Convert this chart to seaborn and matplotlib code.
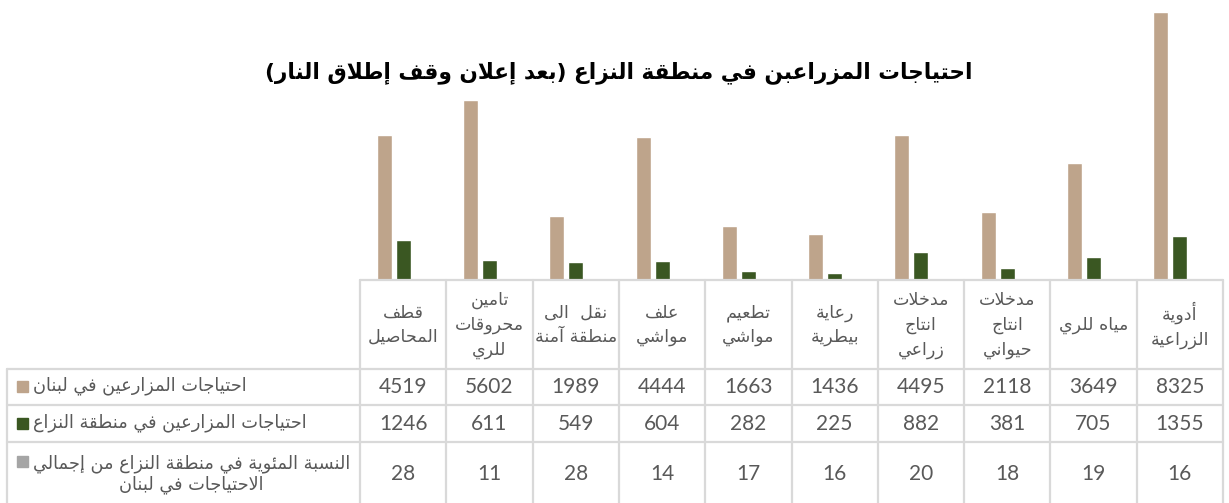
import numpy as np
import pandas as pd
import matplotlib
matplotlib.use("Agg")
import matplotlib.pyplot as plt
import matplotlib.transforms as mtransforms
from matplotlib.lines import Line2D
from matplotlib.patches import Rectangle
import seaborn as sns

# --- data (left to right as shown in the chart) ---
categories = ["قطف\nالمحاصيل", "تامين\nمحروقات\nللري", "نقل  الى\nمنطقة آمنة",
              "علف\nمواشي", "تطعيم\nمواشي", "رعاية\nبيطرية",
              "مدخلات\nانتاج\nزراعي", "مدخلات\nانتاج\nحيواني", "مياه للري",
              "أدوية\nالزراعية"]
needs_lebanon = [4519, 5602, 1989, 4444, 1663, 1436, 4495, 2118, 3649, 8325]
needs_conflict = [1246, 611, 549, 604, 282, 225, 882, 381, 705, 1355]
share_pct = [28, 11, 28, 14, 17, 16, 20, 18, 19, 16]
series_names = ["احتياجات المزارعين في لبنان",
                "احتياجات المزارعين في منطقة النزاع",
                "النسبة المئوية في منطقة النزاع من إجمالي\nالاحتياجات في لبنان"]
colors = ["#BEA48B", "#3A5722", "#A5A5A5"]
title = "احتياجات المزراعبن في منطقة النزاع (بعد إعلان وقف إطلاق النار)"

# --- small arabic shaper (matplotlib has no shaping / bidi) ---
_DUAL = {'ئ': 0xFE89, 'ب': 0xFE8F, 'ت': 0xFE95, 'ث': 0xFE99, 'ج': 0xFE9D, 'ح': 0xFEA1,
         'خ': 0xFEA5, 'س': 0xFEB1, 'ش': 0xFEB5, 'ص': 0xFEB9, 'ض': 0xFEBD, 'ط': 0xFEC1,
         'ظ': 0xFEC5, 'ع': 0xFEC9, 'غ': 0xFECD, 'ف': 0xFED1, 'ق': 0xFED5, 'ك': 0xFED9,
         'ل': 0xFEDD, 'م': 0xFEE1, 'ن': 0xFEE5, 'ه': 0xFEE9, 'ي': 0xFEF1}
_RIGHT = {'آ': 0xFE81, 'أ': 0xFE83, 'ؤ': 0xFE85, 'إ': 0xFE87, 'ا': 0xFE8D, 'ة': 0xFE93,
          'د': 0xFEA9, 'ذ': 0xFEAB, 'ر': 0xFEAD, 'ز': 0xFEAF, 'و': 0xFEED, 'ى': 0xFEEF}
_LAM_ALEF = {'آ': 0xFEF5, 'أ': 0xFEF7, 'إ': 0xFEF9, 'ا': 0xFEFB}
_MIRROR = {'(': ')', ')': '('}


def shape(text):
    lines = []
    for line in text.split('\n'):
        units = []
        i = 0
        while i < len(line):
            c = line[i]
            if c == 'ل' and i + 1 < len(line) and line[i + 1] in _LAM_ALEF:
                units.append(('la', _LAM_ALEF[line[i + 1]]))
                i += 2
                continue
            if c in _DUAL:
                units.append(('d', _DUAL[c]))
            elif c == 'ء':
                units.append(('n', 0xFE80))
            elif c in _RIGHT:
                units.append(('r', _RIGHT[c]))
            else:
                units.append(('x', _MIRROR.get(c, c)))
            i += 1
        res = []
        for j, (k, v) in enumerate(units):
            if k == 'x':
                res.append(v)
                continue
            prev = units[j - 1][0] if j > 0 else 'x'
            nxt = units[j + 1][0] if j + 1 < len(units) else 'x'
            join_prev = prev == 'd'
            if k == 'n':
                res.append(chr(v))
            elif k in ('r', 'la'):
                res.append(chr(v + (1 if join_prev else 0)))
            else:
                join_next = nxt in ('d', 'r', 'la')
                if join_prev and join_next:
                    off = 3
                elif join_prev:
                    off = 1
                elif join_next:
                    off = 2
                else:
                    off = 0
                res.append(chr(v + off))
        lines.append(''.join(res)[::-1])
    return '\n'.join(lines)


# --- figure ---
W, H = 1229, 503
sns.set_theme(style="white")
plt.rcParams['font.family'] = ['DejaVu Sans']
fig = plt.figure(figsize=(W / 100, H / 100), dpi=100)

X0, X1, BASE = 360, 1223, 280
ax = fig.add_axes([X0 / W, 1 - BASE / H, (X1 - X0) / W, BASE / H])

df = pd.DataFrame({
    "cat": categories * 3,
    "series": [series_names[0]] * 10 + [series_names[1]] * 10 + [series_names[2]] * 10,
    "value": needs_lebanon + needs_conflict + share_pct,
})
sns.barplot(data=df, x="cat", y="value", hue="series", order=categories,
            hue_order=series_names, palette=colors, saturation=1,
            width=0.66, gap=0.21, dodge=True, legend=False, ax=ax)
ax.set_ylim(0, 8700)
ax.set_xlim(-0.5, len(categories) - 0.5)
ax.set_xticks([])
ax.set_yticks([])
ax.set_xlabel("")
ax.set_ylabel("")
for s in ax.spines.values():
    s.set_visible(False)

# title
fig.text(619 / W, 1 - 73 / H, shape(title), ha="center", va="center",
         fontsize=15.6, fontweight="bold", color="black")

# --- data table below the plot ---
line_c = "#D9D9D9"
txt_c = "#595959"


def fy(y):
    return 1 - y / H


def hline(y, xa, xb):
    fig.add_artist(Line2D([xa / W, xb / W], [fy(y), fy(y)], color=line_c, lw=1.6))


def vline(x, ya, yb):
    fig.add_artist(Line2D([x / W, x / W], [fy(ya), fy(yb)], color=line_c, lw=1.6))


col_w = (X1 - X0) / len(categories)
hline(BASE, X0, X1)
for y in (369, 405, 442):
    hline(y, 7, X1)
for k in range(len(categories) + 1):
    vline(X0 + k * col_w, BASE, H)
vline(7, 369, H)

trans = mtransforms.blended_transform_factory(ax.transData, fig.transFigure)
xs = np.arange(len(categories))
for x, cat in zip(xs, categories):
    fig.text(x, fy(325), shape(cat), transform=trans, ha="center", va="center",
             fontsize=12.6, color=txt_c, linespacing=1.45)

row_y = [387, 424, 474]
for vals, y in zip([needs_lebanon, needs_conflict, share_pct], row_y):
    for x, v in zip(xs, vals):
        fig.text(x, fy(y), str(v), transform=trans, ha="center", va="center",
                 fontsize=15, color=txt_c, family="Lato")

label_y = [386, 423, 474]
key_y = [386, 423, 461]
for name, col, ly, ky in zip(series_names, colors, label_y, key_y):
    fig.add_artist(Rectangle((17 / W, fy(ky + 6)), 11 / W, 11 / H, color=col,
                             transform=fig.transFigure))
    fig.text(33 / W, fy(ly), shape(name), ha="left", va="center", multialignment="center",
             fontsize=12.8, color=txt_c, linespacing=1.2)

fig.savefig("out.png", dpi=100)
